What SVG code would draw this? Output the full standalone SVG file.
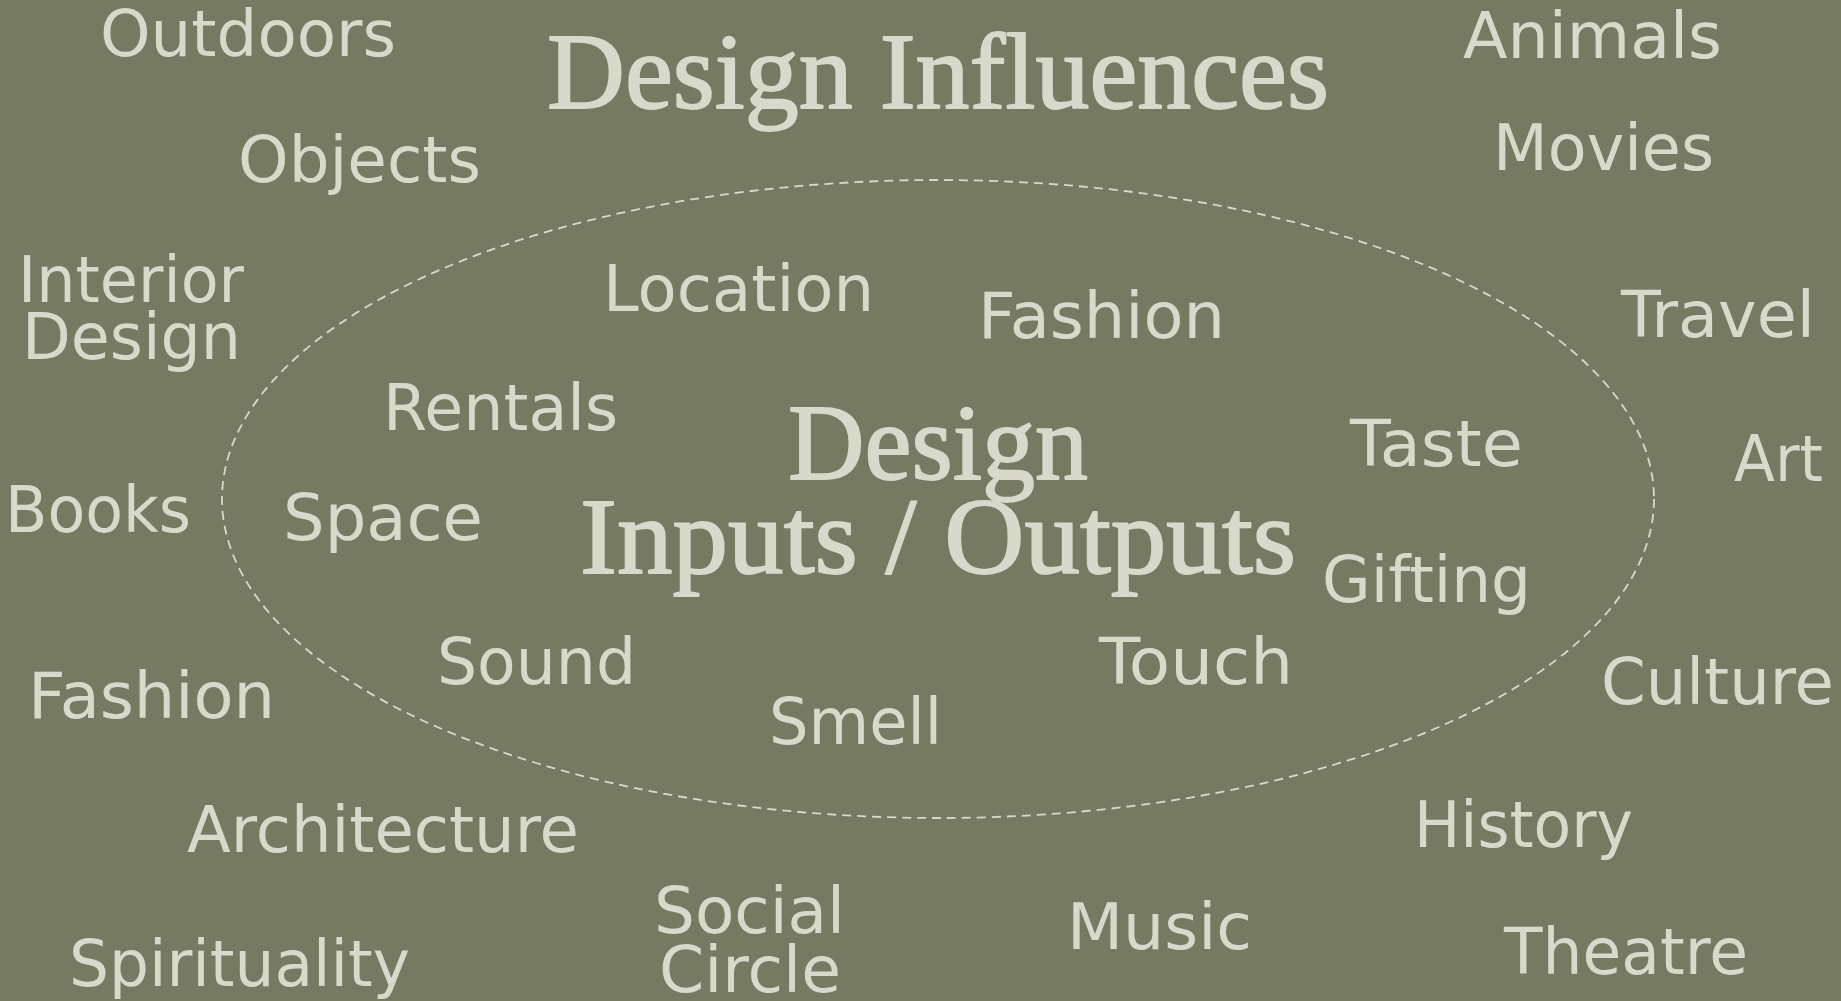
<svg xmlns="http://www.w3.org/2000/svg" width="1841" height="1001" viewBox="0 0 1841 1001">
<style>
.bg{fill:#767A62}
.lbl{font-family:"DejaVu Sans","Liberation Sans",sans-serif;font-size:64px;fill:#D8D9CB;text-anchor:middle}
.ttl{font-family:"Liberation Serif","DejaVu Serif",serif;font-size:108px;fill:#D8D9CB;stroke:#D8D9CB;stroke-width:1.8;stroke-linejoin:round;text-anchor:middle}
.ring{fill:none;stroke:#D8D9CB;stroke-width:1.8;stroke-dasharray:9 6}
</style>
<rect class="bg" x="0" y="0" width="1841" height="1001"/>
<g id="boundary">
<ellipse class="ring" cx="938" cy="499" rx="716" ry="319"/>
</g>
<g id="title"><text class="ttl" x="938" y="108" textLength="782" lengthAdjust="spacingAndGlyphs">Design Influences</text></g>
<g id="center"><text class="ttl" x="938" y="479" textLength="300" lengthAdjust="spacingAndGlyphs">Design</text><text class="ttl" x="938" y="573" textLength="716" lengthAdjust="spacingAndGlyphs">Inputs / Outputs</text></g>
<g id="outdoors"><text class="lbl" x="248" y="56" textLength="296" lengthAdjust="spacingAndGlyphs">Outdoors</text></g>
<g id="objects"><text class="lbl" x="359.5" y="182" textLength="243" lengthAdjust="spacingAndGlyphs">Objects</text></g>
<g id="interior-design"><text class="lbl" x="131" y="302" textLength="226" lengthAdjust="spacingAndGlyphs">Interior</text><text class="lbl" x="131.5" y="359" textLength="219" lengthAdjust="spacingAndGlyphs">Design</text></g>
<g id="books"><text class="lbl" x="98" y="532" textLength="186" lengthAdjust="spacingAndGlyphs">Books</text></g>
<g id="fashion-outer"><text class="lbl" x="151.5" y="718" textLength="247" lengthAdjust="spacingAndGlyphs">Fashion</text></g>
<g id="architecture"><text class="lbl" x="383" y="852" textLength="392" lengthAdjust="spacingAndGlyphs">Architecture</text></g>
<g id="spirituality"><text class="lbl" x="239.5" y="986" textLength="341" lengthAdjust="spacingAndGlyphs">Spirituality</text></g>
<g id="social-circle"><text class="lbl" x="749.5" y="933" textLength="191" lengthAdjust="spacingAndGlyphs">Social</text><text class="lbl" x="750" y="992" textLength="182" lengthAdjust="spacingAndGlyphs">Circle</text></g>
<g id="music"><text class="lbl" x="1159.5" y="949" textLength="185" lengthAdjust="spacingAndGlyphs">Music</text></g>
<g id="theatre"><text class="lbl" x="1626" y="974" textLength="244" lengthAdjust="spacingAndGlyphs">Theatre</text></g>
<g id="history"><text class="lbl" x="1523.5" y="847" textLength="219" lengthAdjust="spacingAndGlyphs">History</text></g>
<g id="culture"><text class="lbl" x="1717.5" y="704" textLength="233" lengthAdjust="spacingAndGlyphs">Culture</text></g>
<g id="art"><text class="lbl" x="1778.5" y="481" textLength="89" lengthAdjust="spacingAndGlyphs">Art</text></g>
<g id="travel"><text class="lbl" x="1718" y="337" textLength="194" lengthAdjust="spacingAndGlyphs">Travel</text></g>
<g id="movies"><text class="lbl" x="1603.5" y="170" textLength="221" lengthAdjust="spacingAndGlyphs">Movies</text></g>
<g id="animals"><text class="lbl" x="1592.5" y="58" textLength="259" lengthAdjust="spacingAndGlyphs">Animals</text></g>
<g id="location"><text class="lbl" x="738.5" y="311" textLength="271" lengthAdjust="spacingAndGlyphs">Location</text></g>
<g id="fashion-inner"><text class="lbl" x="1101.5" y="338" textLength="247" lengthAdjust="spacingAndGlyphs">Fashion</text></g>
<g id="rentals"><text class="lbl" x="500.5" y="430" textLength="235" lengthAdjust="spacingAndGlyphs">Rentals</text></g>
<g id="taste"><text class="lbl" x="1436.5" y="466" textLength="173" lengthAdjust="spacingAndGlyphs">Taste</text></g>
<g id="space"><text class="lbl" x="383" y="540" textLength="200" lengthAdjust="spacingAndGlyphs">Space</text></g>
<g id="gifting"><text class="lbl" x="1426.5" y="602" textLength="209" lengthAdjust="spacingAndGlyphs">Gifting</text></g>
<g id="sound"><text class="lbl" x="536.5" y="684" textLength="199" lengthAdjust="spacingAndGlyphs">Sound</text></g>
<g id="touch"><text class="lbl" x="1196" y="684" textLength="194" lengthAdjust="spacingAndGlyphs">Touch</text></g>
<g id="smell"><text class="lbl" x="855.5" y="744" textLength="173" lengthAdjust="spacingAndGlyphs">Smell</text></g>
</svg>
